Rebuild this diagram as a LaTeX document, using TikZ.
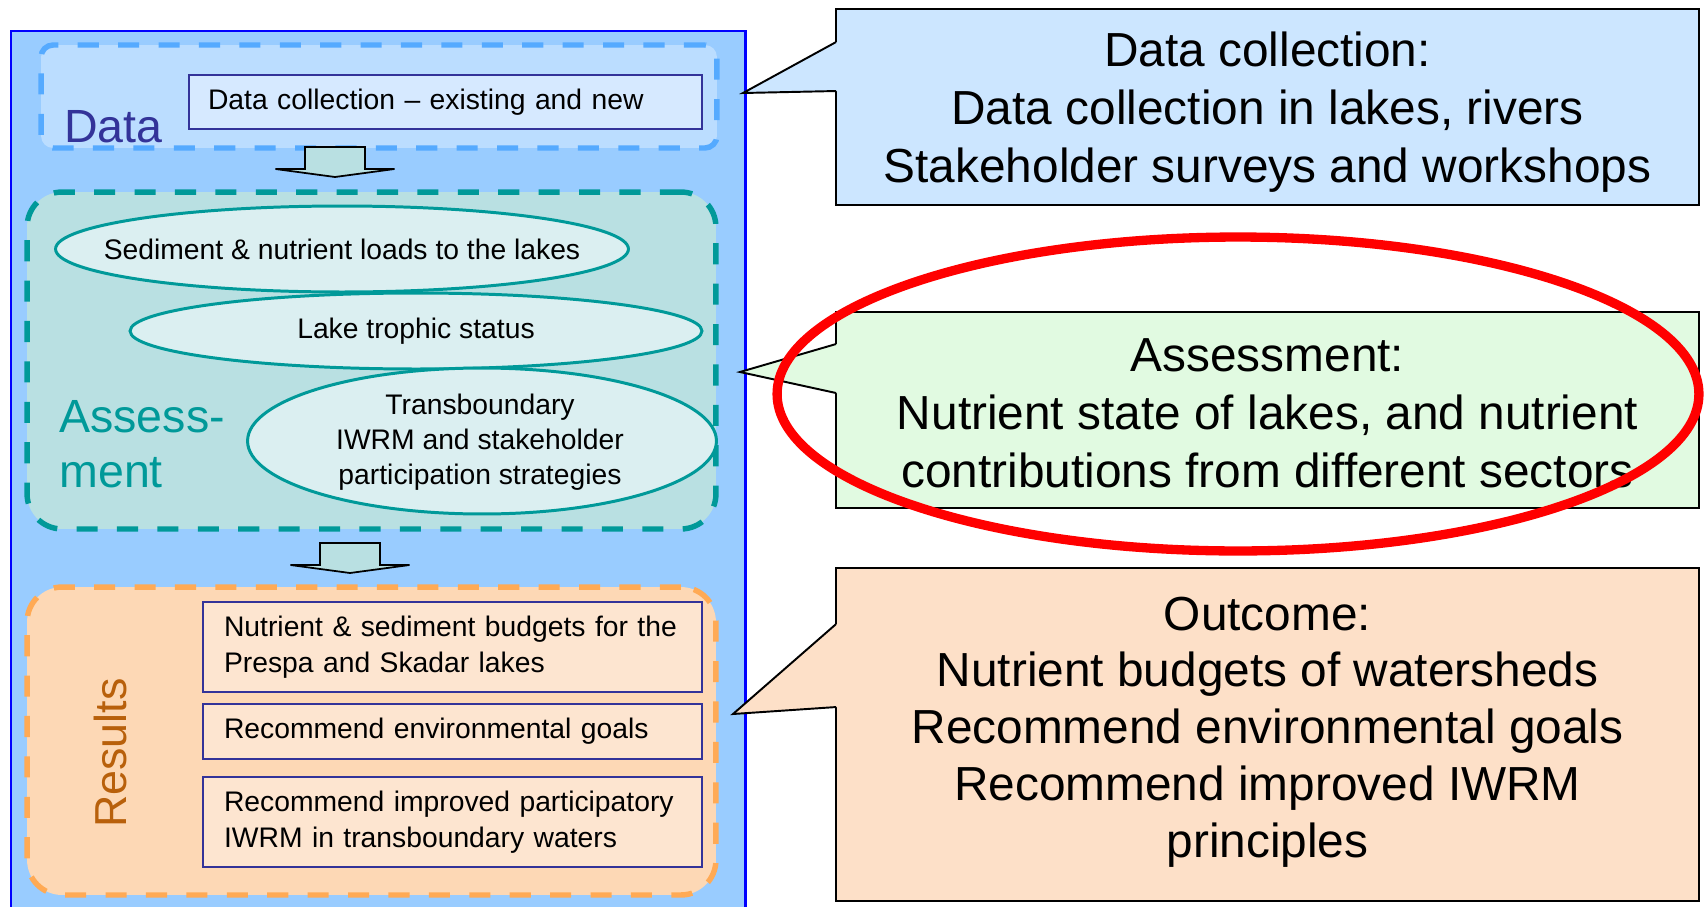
\documentclass[tikz,border=0pt]{standalone}
\usepackage{fontspec}
\setmainfont{Liberation Sans}
\usetikzlibrary{positioning,calc,shapes.geometric}

\definecolor{frameblue}{HTML}{0000FF}
\definecolor{framefill}{HTML}{99CCFF}
\definecolor{dataline}{HTML}{55AAFF}
\definecolor{datafill}{HTML}{BBDDFF}
\definecolor{databox}{HTML}{D6E9FF}
\definecolor{itemline}{HTML}{333399}
\definecolor{assessline}{HTML}{009999}
\definecolor{assessfill}{HTML}{B9E0E2}
\definecolor{ovalfill}{HTML}{DBEFF1}
\definecolor{resline}{HTML}{FFAA55}
\definecolor{resfill}{HTML}{FDD8B5}
\definecolor{resbox}{HTML}{FDE5D0}
\definecolor{reslabel}{HTML}{B8600B}
\definecolor{calloutblue}{HTML}{CCE6FF}
\definecolor{calloutgreen}{HTML}{E1FAE1}
\definecolor{calloutorange}{HTML}{FDE0C8}

\begin{document}
\begin{tikzpicture}[x=0.02cm,y=-0.02cm,
                    stagebox/.style={line width=3.1pt,dash pattern=on 12pt off 11pt,minimum width=13.78cm},
                    itembox/.style={rectangle,draw=itemline,line width=1.1pt,inner xsep=0.42cm,inner ysep=0pt,
                                    text width=9.14cm,align=left,font=\fontsize{16.1}{20.4}\selectfont},
                    oval/.style={ellipse,draw=assessline,line width=1.7pt,fill=ovalfill,inner sep=0pt},
                    ovaltext/.style={align=center,inner sep=0pt,font=\fontsize{16.1}{19.8}\selectfont},
                    stagelabel/.style={inner sep=0pt,font=\fontsize{26.5}{31.2}\selectfont},
                    calloutbox/.style={rectangle,draw=black,line width=1.1pt,outer sep=0pt,minimum width=17.26cm},
                    callouttext/.style={align=center,inner sep=0pt,text depth=0pt,font=\fontsize{27.2}{33}\selectfont},
                    blockarrow/.style={draw=black,line width=1pt,fill=assessfill},
                    ring/.style={draw=red,line width=5.3pt}
                ]
    \useasboundingbox (0,0) rectangle (1706,906);
    \clip (0,0) rectangle (1706,906);

    % frame round the three stages
    \draw[draw=frameblue,fill=framefill,line width=1.7pt] (11,31) rectangle (745,940);

    % data
    \node[stagebox,draw=dataline,fill=datafill,rounded corners=0.24cm,minimum width=13.52cm,minimum height=2.06cm] (datagrp) at (379,96.5) {};
    \node[itembox,fill=databox,text width=9.5cm,inner xsep=0.38cm,minimum height=1.08cm] (collect) at (445.5,102) {Data collection – existing and new};
    \node[stagelabel,text=itemline,anchor=base west] (datalbl) at (64,142) {Data};

    % assessment
    \node[stagebox,draw=assessline,fill=assessfill,rounded corners=0.7cm,minimum height=6.74cm] (assessgrp) at (371.5,360.5) {};
    \node[oval,minimum width=11.46cm,minimum height=1.72cm] (loads) at (342,249) {};
    \node[oval,minimum width=11.44cm,minimum height=1.52cm] (trophic) at (416,331) {};
    \node[oval,minimum width=9.38cm,minimum height=2.92cm] (iwrm) at (482,441) {};
    \node[ovaltext] (loadstext) at (loads) {Sediment \& nutrient loads to the lakes};
    \node[ovaltext] (trophictext) at (trophic) {Lake trophic status};
    \node[ovaltext] (iwrmtext) at (480,442) {Transboundary\\IWRM and stakeholder\\participation strategies};
    \node[stagelabel,text=assessline,anchor=west,align=left] (assesslbl) at (59,444.5) {Assess-\\ment};

    % results
    \node[stagebox,draw=resline,fill=resfill,rounded corners=0.7cm,minimum height=6.16cm] (resultgrp) at (371.5,741) {};
    \node[itembox,fill=resbox,minimum height=1.8cm] (budgets) at (452.5,647) {Nutrient \& sediment budgets for the\\Prespa and Skadar lakes};
    \node[itembox,fill=resbox,minimum height=1.1cm] (goals) at (452.5,731.5) {Recommend environmental goals};
    \node[itembox,fill=resbox,minimum height=1.8cm] (improve) at (452.5,822) {Recommend improved participatory\\IWRM in transboundary waters};
    \node[stagelabel,text=reslabel,rotate=90,font=\fontsize{25.5}{31.2}\selectfont] (resultlbl) at (110,753) {Results};

    % arrows between stages
    \foreach \ax/\ay in {335/147,350/543}
        \draw[blockarrow] (\ax,\ay) ++(-30,0) -- ++(0,22) -- ++(-29.5,0) -- ++(59.5,8) -- ++(59.5,-8) -- ++(-29.5,0) -- ++(0,-22) -- cycle;

    % callouts
    \node[calloutbox,fill=calloutblue,minimum height=3.92cm] (cdata) at (1267.5,107) {};
    \node[calloutbox,fill=calloutgreen,minimum height=3.92cm] (cassess) at (1267.5,410) {};
    \node[calloutbox,fill=calloutorange,minimum height=6.66cm] (coutcome) at (1267.5,734.5) {};

    \node[callouttext] (cdatatext) at ($(cdata.center)+(0,0.5)$) {Data collection:\\Data collection in lakes, rivers\\Stakeholder surveys and workshops};
    \node[callouttext] (cassesstext) at ($(cassess.center)+(0,3.5)$) {Assessment:\\Nutrient state of lakes, and nutrient\\contributions from different sectors};
    \node[callouttext,font=\fontsize{27.2}{32.3}\selectfont] (coutcometext) at ($(coutcome.center)+(0,-7.5)$) {Outcome:\\Nutrient budgets of watersheds\\Recommend environmental goals\\Recommend improved IWRM\\principles};

    \coordinate (cdata-tip) at (743,93);
    \coordinate (cassess-tip) at (740,372);
    \coordinate (coutcome-tip) at (733,714);

    \foreach \c/\col/\a/\b in {cdata/calloutblue/33/82,cassess/calloutgreen/32/81,coutcome/calloutorange/56/139}
        {
        \fill[\col] ($(\c.north west)+(3,\a)$) -- ($(\c.north west)+(0,\a)$) -- (\c-tip) -- ($(\c.north west)+(0,\b)$) -- ($(\c.north west)+(3,\b)$) -- cycle;
        \draw[line width=1.1pt] ($(\c.north west)+(0,\a)$) -- (\c-tip) -- ($(\c.north west)+(0,\b)$);
        }

    % highlight
    \draw[ring] (1238,394) ellipse [x radius=9.22cm,y radius=3.14cm];
\end{tikzpicture}
\end{document}
